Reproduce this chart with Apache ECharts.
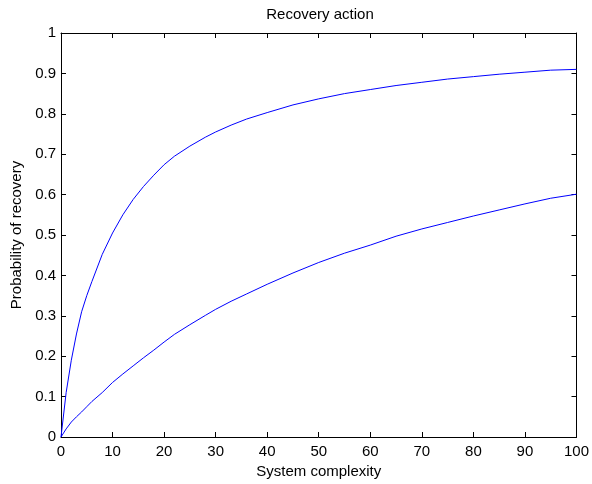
<!DOCTYPE html>
<html>
<head>
<meta charset="utf-8">
<script src="https://cdn.jsdelivr.net/npm/echarts@6/dist/echarts.min.js"></script>
<style>
html,body{margin:0;padding:0;background:#fff;}
#chart{width:592px;height:484px;}
</style>
</head>
<body>
<div id="chart"></div>
<script>
var complexity = [0,1,2,3,4,5,6,8,10,12,14,16,18,20,22,25,28,30,33,36,40,45,50,55,60,65,70,75,80,85,90,95,100];
var upperCurve = [0,0.11,0.19,0.255,0.31,0.35,0.385,0.452,0.505,0.55,0.588,0.62,0.648,0.674,0.695,0.72,0.742,0.755,0.772,0.787,0.803,0.822,0.837,0.85,0.86,0.87,0.878,0.886,0.892,0.898,0.903,0.908,0.91];
var lowerCurve = [0,0.02,0.037,0.05,0.062,0.075,0.088,0.11,0.135,0.156,0.176,0.196,0.215,0.235,0.254,0.278,0.301,0.316,0.336,0.354,0.378,0.406,0.432,0.455,0.475,0.497,0.515,0.531,0.547,0.562,0.577,0.591,0.601];
var titleText = "Recovery action";
var xName = "System complexity";
var yName = "Probability of recovery";

function pairs(xs, ys){ return xs.map(function(x,i){ return [x, ys[i]]; }); }

var FONT = "'Liberation Sans', Arial, sans-serif";
var chart = echarts.init(document.getElementById('chart'), null, {renderer:'canvas'});
var axisCommon = {
  axisLine:{show:true, onZero:false, lineStyle:{color:'#000', width:1}},
  axisTick:{show:true, inside:true, length:5, lineStyle:{color:'#000', width:1}},
  splitLine:{show:false}
};
chart.setOption({
  animation:false,
  backgroundColor:'#fff',
  title:{
    text:titleText, left:320, top:7, padding:0, textAlign:'center',
    textStyle:{fontFamily:FONT, fontSize:15, fontWeight:'normal', color:'#000'}
  },
  grid:{left:61, right:12, top:33, bottom:42, containLabel:false},
  xAxis:[
    Object.assign({
      type:'value', min:0, max:100, interval:10, position:'bottom',
      name:xName, nameLocation:'middle', nameGap:27,
      nameTextStyle:{fontFamily:FONT, fontSize:15, color:'#000'},
      axisLabel:{show:true, margin:7, fontFamily:FONT, fontSize:15, color:'#000', showMinLabel:true, showMaxLabel:true}
    }, axisCommon),
    Object.assign({
      type:'value', min:0, max:100, interval:10, position:'top',
      axisLabel:{show:false}
    }, axisCommon)
  ],
  yAxis:[
    Object.assign({
      type:'value', min:0, max:1, interval:0.1, position:'left',
      name:yName, nameLocation:'middle', nameGap:35,
      nameTextStyle:{fontFamily:FONT, fontSize:15, color:'#000'},
      axisLabel:{show:true, margin:5, fontFamily:FONT, fontSize:15, color:'#000',
        formatter:function(v){ return String(Math.round(v*10)/10); }}
    }, axisCommon),
    Object.assign({
      type:'value', min:0, max:1, interval:0.1, position:'right',
      axisLabel:{show:false}
    }, axisCommon)
  ],
  series:[
    {type:'line', xAxisIndex:0, yAxisIndex:0, data:pairs(complexity, upperCurve), showSymbol:false, symbol:'none', lineStyle:{color:'#0000ff', width:1}, itemStyle:{color:'#0000ff'}},
    {type:'line', xAxisIndex:0, yAxisIndex:0, data:pairs(complexity, lowerCurve), showSymbol:false, symbol:'none', lineStyle:{color:'#0000ff', width:1}, itemStyle:{color:'#0000ff'}}
  ]
});
</script>
</body>
</html>
